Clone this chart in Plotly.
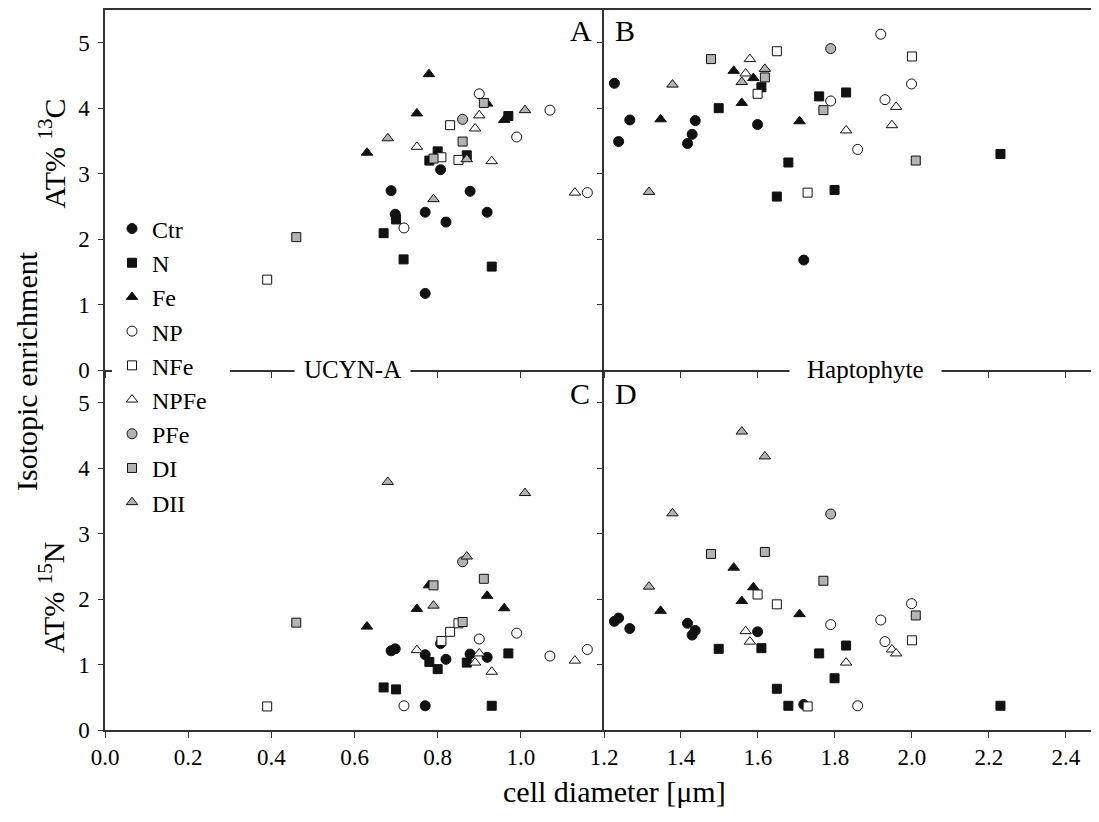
import plotly.graph_objects as go

# ---------------- data ----------------
conditions = ["Ctr", "N", "Fe", "NP", "NFe", "NPFe", "PFe", "DI", "DII"]

# UCYN-A: cell diameter, AT% 13C (panel A), AT% 15N (panel C)
ucyn_ctr_x = [0.688, 0.698, 0.770, 0.807, 0.820, 0.878, 0.919, 0.770]
ucyn_ctr_c13 = [2.74, 2.38, 2.41, 3.06, 2.26, 2.73, 2.41, 1.17]
ucyn_ctr_n15 = [1.21, 1.24, 1.15, 1.32, 1.08, 1.16, 1.11, 0.37]

ucyn_n_x = [0.670, 0.700, 0.718, 0.780, 0.800, 0.870, 0.970, 0.930]
ucyn_n_c13 = [2.09, 2.30, 1.69, 3.20, 3.34, 3.28, 3.88, 1.58]
ucyn_n_n15 = [0.65, 0.62, None, 1.04, 0.93, 1.03, 1.17, 0.37]

ucyn_fe_x = [0.630, 0.750, 0.779, 0.919, 0.960]
ucyn_fe_c13 = [3.32, 3.92, 4.52, 4.07, 3.82]
ucyn_fe_n15 = [1.58, 1.85, 2.21, 2.05, 1.86]

ucyn_np_x = [0.719, 0.900, 0.990, 1.070, 1.160]
ucyn_np_c13 = [2.17, 4.22, 3.56, 3.97, 2.71]
ucyn_np_n15 = [0.37, 1.39, 1.48, 1.13, 1.23]

ucyn_nfe_x = [0.390, 0.809, 0.830, 0.850]
ucyn_nfe_c13 = [1.38, 3.25, 3.74, 3.21]
ucyn_nfe_n15 = [0.36, 1.36, 1.50, 1.63]

ucyn_npfe_x = [0.750, 0.890, 0.900, 0.930, 1.130]
ucyn_npfe_c13 = [3.41, 3.69, 3.89, 3.19, 2.71]
ucyn_npfe_n15 = [1.22, 1.03, 1.17, 0.89, 1.06]

ucyn_pfe_x = [0.860]
ucyn_pfe_c13 = [3.83]
ucyn_pfe_n15 = [2.57]

ucyn_di_x = [0.460, 0.790, 0.860, 0.911]
ucyn_di_c13 = [2.03, 3.23, 3.49, 4.08]
ucyn_di_n15 = [1.64, 2.21, 1.65, 2.31]

ucyn_dii_x = [0.680, 0.790, 0.870, 1.010]
ucyn_dii_c13 = [3.54, 2.61, 3.22, 3.97]
ucyn_dii_n15 = [3.79, 1.90, 2.65, 3.62]

# Haptophyte: cell diameter, AT% 13C (panel B), AT% 15N (panel D)
hap_ctr_x = [1.227, 1.238, 1.267, 1.417, 1.429, 1.437, 1.599, 1.719]
hap_ctr_c13 = [4.38, 3.49, 3.82, 3.46, 3.60, 3.81, 3.75, 1.68]
hap_ctr_n15 = [1.66, 1.71, 1.55, 1.63, 1.45, 1.52, 1.50, 0.39]

hap_n_x = [1.498, 1.609, 1.649, 1.679, 1.759, 1.799, 1.829, 2.230]
hap_n_c13 = [4.00, 4.32, 2.65, 3.17, 4.18, 2.75, 4.24, 3.30]
hap_n_n15 = [1.24, 1.25, 0.63, 0.37, 1.17, 0.79, 1.29, 0.37]

hap_fe_x = [1.347, 1.537, 1.558, 1.588, 1.708]
hap_fe_c13 = [3.83, 4.57, 4.08, 4.46, 3.80]
hap_fe_n15 = [1.82, 2.48, 1.97, 2.18, 1.77]

hap_np_x = [1.789, 1.859, 1.919, 1.930, 1.999]
hap_np_c13 = [4.11, 3.37, 5.13, 4.13, 4.37]
hap_np_n15 = [1.61, 0.37, 1.68, 1.35, 1.93]

hap_nfe_x = [1.599, 1.649, 1.729, 2.000]
hap_nfe_c13 = [4.22, 4.87, 2.71, 4.79]
hap_nfe_n15 = [2.07, 1.92, 0.36, 1.37]

hap_npfe_x = [1.568, 1.579, 1.829, 1.948, 1.959]
hap_npfe_c13 = [4.53, 4.75, 3.66, 3.74, 4.02]
hap_npfe_n15 = [1.51, 1.35, 1.03, 1.23, 1.17]

hap_pfe_x = [1.789]
hap_pfe_c13 = [4.91]
hap_pfe_n15 = [3.30]

hap_di_x = [1.478, 1.618, 1.770, 2.010]
hap_di_c13 = [4.75, 4.47, 3.97, 3.20]
hap_di_n15 = [2.69, 2.72, 2.28, 1.75]

hap_dii_x = [1.317, 1.378, 1.558, 1.618]
hap_dii_c13 = [2.72, 4.36, 4.40, 4.60]
hap_dii_n15 = [2.19, 3.31, 4.56, 4.18]

x_ticks_left = [0.0, 0.2, 0.4, 0.6, 0.8, 1.0]
x_ticks_right = [1.2, 1.4, 1.6, 1.8, 2.0, 2.2, 2.4]
y_ticks = [0, 1, 2, 3, 4, 5]

ucyn = {
    "Ctr": (ucyn_ctr_x, ucyn_ctr_c13, ucyn_ctr_n15),
    "N": (ucyn_n_x, ucyn_n_c13, ucyn_n_n15),
    "Fe": (ucyn_fe_x, ucyn_fe_c13, ucyn_fe_n15),
    "NP": (ucyn_np_x, ucyn_np_c13, ucyn_np_n15),
    "NFe": (ucyn_nfe_x, ucyn_nfe_c13, ucyn_nfe_n15),
    "NPFe": (ucyn_npfe_x, ucyn_npfe_c13, ucyn_npfe_n15),
    "PFe": (ucyn_pfe_x, ucyn_pfe_c13, ucyn_pfe_n15),
    "DI": (ucyn_di_x, ucyn_di_c13, ucyn_di_n15),
    "DII": (ucyn_dii_x, ucyn_dii_c13, ucyn_dii_n15),
}
hapto = {
    "Ctr": (hap_ctr_x, hap_ctr_c13, hap_ctr_n15),
    "N": (hap_n_x, hap_n_c13, hap_n_n15),
    "Fe": (hap_fe_x, hap_fe_c13, hap_fe_n15),
    "NP": (hap_np_x, hap_np_c13, hap_np_n15),
    "NFe": (hap_nfe_x, hap_nfe_c13, hap_nfe_n15),
    "NPFe": (hap_npfe_x, hap_npfe_c13, hap_npfe_n15),
    "PFe": (hap_pfe_x, hap_pfe_c13, hap_pfe_n15),
    "DI": (hap_di_x, hap_di_c13, hap_di_n15),
    "DII": (hap_dii_x, hap_dii_c13, hap_dii_n15),
}

# ---------------- styles ----------------
BLACK = "#111111"
GRAY = "#b3b3b3"
WHITE = "#ffffff"
style = {
    "Ctr": ("circle", BLACK, 10),
    "N": ("square", BLACK, 9),
    "Fe": ("triangle-up", BLACK, 10),
    "NP": ("circle", WHITE, 10),
    "NFe": ("square", WHITE, 9),
    "NPFe": ("triangle-up", WHITE, 10),
    "PFe": ("circle", GRAY, 10),
    "DI": ("square", GRAY, 9),
    "DII": ("triangle-up", GRAY, 10),
}

FONT = "Liberation Serif, Times New Roman, serif"

fig = go.Figure()

panels = [
    (ucyn, 1, "x", "y"),
    (hapto, 1, "x2", "y2"),
    (ucyn, 2, "x3", "y3"),
    (hapto, 2, "x4", "y4"),
]

for cond in conditions:
    sym, fill, size = style[cond]
    for i, (src, idx, xa, ya) in enumerate(panels):
        xs = src[cond][0]
        ys = src[cond][idx]
        fig.add_trace(go.Scatter(
            x=xs, y=ys, mode="markers", name=cond,
            legendgroup=cond, showlegend=(i == 0),
            xaxis=xa, yaxis=ya,
            marker=dict(symbol=sym, color=fill, size=size,
                        line=dict(color=BLACK, width=1)),
        ))

# page body has an 8 px default margin: compensate so the plot sits where the reference has it
OFF = 8
W, H = 1099, 822
ML, MR, MT, MB = 105 - OFF, OFF, 8 - OFF, 822 - (730 - OFF)
PW, PH = W - ML - MR, H - MT - MB
split_x = (604 - OFF - ML) / PW


def px(xw):
    return (xw - OFF - ML) / PW


def py(yw):
    return (H - MB - (yw - OFF)) / PH


LINE = "#333333"
LW = 1.5
tickfont = dict(family=FONT, size=23, color="black")

common_x = dict(showgrid=False, zeroline=False, showline=True, linecolor=LINE,
                linewidth=LW, ticks="outside", ticklen=6, tickwidth=1.2,
                tickcolor=LINE, tickfont=tickfont)
common_y = dict(showgrid=False, zeroline=False, showline=True, linecolor=LINE,
                linewidth=LW, ticks="outside", ticklen=5, tickwidth=1.2,
                tickcolor=LINE, tickfont=tickfont, range=[0, 5.5],
                tickvals=y_ticks, ticklabelstandoff=4)

fig.update_layout(
    width=W, height=H,
    margin=dict(l=ML, r=MR, t=MT, b=MB),
    plot_bgcolor="white", paper_bgcolor="white",
    font=dict(family=FONT, color="black"),
    xaxis=dict(common_x, domain=[0, split_x], range=[0, 1.2], anchor="y",
               tickvals=x_ticks_left + [1.2], showticklabels=False, mirror=True),
    yaxis=dict(common_y, domain=[0.5, 1], anchor="x"),
    xaxis2=dict(common_x, domain=[split_x, 1], range=[1.2, 2.486], anchor="y2",
                tickvals=x_ticks_right, showticklabels=False, mirror=True),
    yaxis2=dict(common_y, domain=[0.5, 1], anchor="x2", showticklabels=False),
    xaxis3=dict(common_x, domain=[0, split_x], range=[0, 1.2], anchor="y3",
                tickvals=x_ticks_left, tickformat=".1f"),
    yaxis3=dict(common_y, domain=[0, 0.5], anchor="x3"),
    xaxis4=dict(common_x, domain=[split_x, 1], range=[1.2, 2.486], anchor="y4",
                tickvals=x_ticks_right, tickformat=".1f"),
    yaxis4=dict(common_y, domain=[0, 0.5], anchor="x4", showticklabels=False),
    legend=dict(x=px(112), y=py(205), xanchor="left", yanchor="top",
                bgcolor="white", borderwidth=0, tracegroupgap=0,
                font=dict(family=FONT, size=24, color="black"),
                itemsizing="trace"),
    showlegend=True,
)

# white mask behind the legend so the middle separator line breaks like in the reference
fig.add_shape(type="rect", xref="paper", yref="paper", layer="above",
              x0=px(112), x1=px(230), y0=py(375), y1=py(362),
              fillcolor="white", line=dict(width=0))

ann = []
big = dict(family=FONT, size=30, color="black")
mid = dict(family=FONT, size=25, color="black")


def add(text, xw, yw, font, **kw):
    d = dict(text=text, x=px(xw), y=py(yw), xref="paper", yref="paper",
             xanchor="center", yanchor="middle", showarrow=False, font=font)
    d.update(kw)
    ann.append(d)


# panel letters
add("A", 581, 29, big)
add("B", 625, 29, big)
add("C", 580, 393, big)
add("D", 626, 393, big)
# group labels on the middle line
add("UCYN-A", 352, 368, mid, bgcolor="white", borderpad=9)
add("Haptophyte", 865, 368, mid, bgcolor="white", borderpad=17)
# axis titles
add("AT% <sup>13</sup>C", 52, 152, big, textangle=-90)
add("AT% <sup>15</sup>N", 52, 597, big, textangle=-90)
add("Isotopic enrichment", 27, 370, big, textangle=-90)
add("cell diameter [μm]", 614, 792, big)
fig.update_layout(annotations=ann)

fig.write_html("out.html")
